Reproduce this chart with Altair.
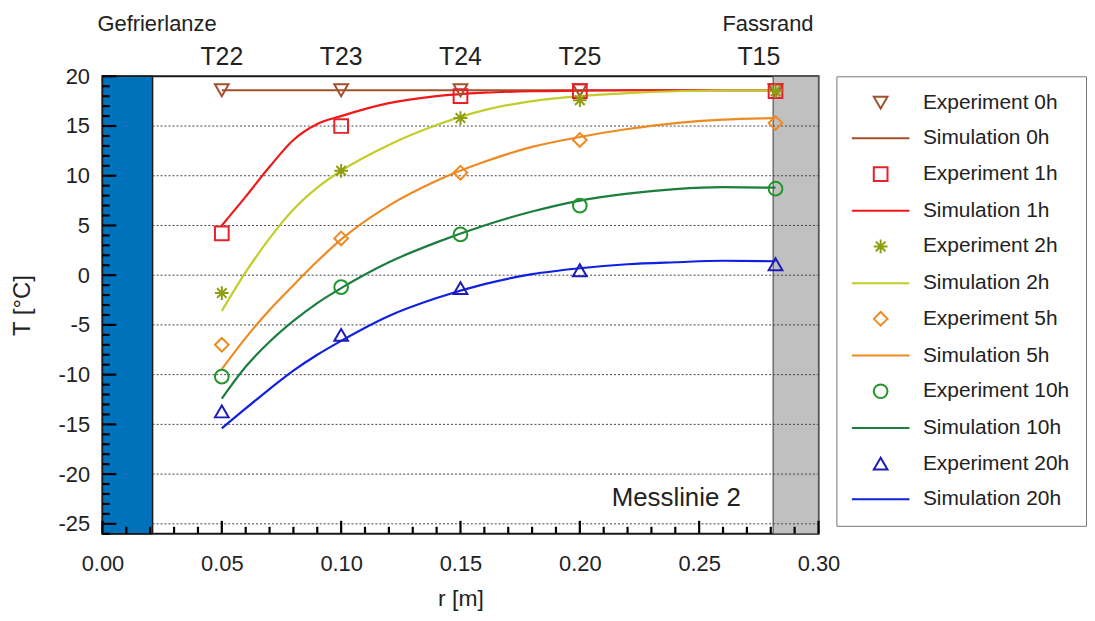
import altair as alt
import pandas as pd

# ---------------- data ----------------
r_sensor = [0.05, 0.10, 0.15, 0.20, 0.282]
sensor_names = ["T22", "T23", "T24", "T25", "T15"]
sensor_label_r = [0.05, 0.10, 0.15, 0.20, 0.275]

exp_0h = [18.6, 18.6, 18.6, 18.6, 18.6]
exp_1h = [4.2, 15.0, 18.0, 18.5, 18.5]
exp_2h = [-1.8, 10.5, 15.8, 17.6, 18.5]
exp_5h = [-7.0, 3.7, 10.3, 13.6, 15.3]
exp_10h = [-10.2, -1.2, 4.1, 7.0, 8.7]
exp_20h = [-13.7, -6.0, -1.3, 0.5, 1.1]

r_sim = [0.05, 0.06, 0.07, 0.08, 0.09, 0.10, 0.12, 0.14, 0.16, 0.18, 0.20, 0.22, 0.24, 0.26, 0.282]
sim_0h = [18.6, 18.6, 18.6, 18.6, 18.6, 18.6, 18.6, 18.6, 18.6, 18.6, 18.6, 18.6, 18.6, 18.6, 18.6]
sim_1h = [5.0, 7.9, 10.9, 13.6, 15.2, 16.0, 17.3, 18.0, 18.35, 18.5, 18.55, 18.6, 18.6, 18.6, 18.6]
sim_2h = [-3.6, 0.3, 3.7, 6.6, 8.8, 10.5, 13.1, 15.1, 16.6, 17.5, 18.0, 18.3, 18.5, 18.6, 18.6]
sim_5h = [-9.45, -6.3, -3.5, -1.0, 1.4, 3.6, 7.0, 9.5, 11.4, 12.9, 13.9, 14.7, 15.3, 15.65, 15.8]
sim_10h = [-12.4, -9.2, -6.7, -4.6, -2.8, -1.3, 1.3, 3.3, 5.0, 6.4, 7.5, 8.2, 8.65, 8.85, 8.8]
sim_20h = [-15.4, -13.4, -11.45, -9.6, -8.0, -6.6, -4.1, -2.3, -0.9, 0.1, 0.7, 1.1, 1.3, 1.45, 1.4]

hours = ["0h", "1h", "2h", "5h", "10h", "20h"]
exp_series = [exp_0h, exp_1h, exp_2h, exp_5h, exp_10h, exp_20h]
sim_series = [sim_0h, sim_1h, sim_2h, sim_5h, sim_10h, sim_20h]

lance_r = [0.0, 0.021]   # Gefrierlanze region
rim_r = [0.281, 0.30]    # Fassrand region

x_ticks = [i / 100 for i in range(0, 31)]
x_major = [0.00, 0.05, 0.10, 0.15, 0.20, 0.25, 0.30]
x_minor = [v for v in x_ticks if round(v * 100) % 5 != 0]
y_ticks = list(range(-26, 21))
y_major = [-25, -20, -15, -10, -5, 0, 5, 10, 15, 20]
y_minor = [v for v in y_ticks if v % 5 != 0]
y_grid = [-25, -20, -15, -10, -5, 0, 5, 10, 15]

# ---------------- tables ----------------
exp_rows = []
for h, vals in zip(hours, exp_series):
    for r, t in zip(r_sensor, vals):
        exp_rows.append({"r": r, "T": t, "label": f"Experiment {h}"})
exp_df = pd.DataFrame(exp_rows)

sim_rows = []
for h, vals in zip(hours, sim_series):
    for r, t in zip(r_sim, vals):
        sim_rows.append({"r": r, "T": t, "label": f"Simulation {h}"})
sim_df = pd.DataFrame(sim_rows)

sensor_df = pd.DataFrame({"r": sensor_label_r, "name": sensor_names})
lance_df = pd.DataFrame({"r0": [lance_r[0]], "r1": [lance_r[1]]})
rim_df = pd.DataFrame({"r0": [rim_r[0]], "r1": [rim_r[1]]})
grid_df = pd.DataFrame({"T": y_grid})

legend_order = []
for h in hours:
    legend_order += [f"Experiment {h}", f"Simulation {h}"]

color_range = [
    "#A0522D", "#A0522D",
    "#E8202A", "#F01818",
    "#8F9E10", "#C2CC2A",
    "#EE8A22", "#EE8A22",
    "#22962A", "#1B7D3E",
    "#1C1CB4", "#1020E0",
]
LINE = "M-4.2,0L4.2,0"
ASTER = "M-1,0L1,0M0,-1L0,1M-0.7,-0.7L0.7,0.7M-0.7,0.7L0.7,-0.7"
shape_range = [
    "triangle-down", LINE,
    "square", LINE,
    ASTER, LINE,
    "diamond", LINE,
    "circle", LINE,
    "triangle-up", LINE,
]

FONT = "Liberation Sans"
X0, X1 = 0.0, 0.30
Y0, Y1 = -26, 20

x_scale = alt.Scale(domain=[X0, X1], nice=False, zero=False)
y_scale = alt.Scale(domain=[Y0, Y1], nice=False, zero=False)

x_axis = alt.Axis(
    values=x_ticks, tickCount=200,
    labelExpr="round(datum.value*100) % 5 === 0 ? format(datum.value, '.2f') : ''",
    tickSize={"condition": {"test": "round(datum.value*100) % 5 === 0", "value": -13}, "value": -7},
    tickOpacity=0, domain=False, grid=False,
    labelFontSize=22, labelPadding=33, labelFlush=False, labelOverlap=False,
    title="r [m]", titleFontSize=23, titleFontWeight="normal", titlePadding=7,
)
y_axis = alt.Axis(
    values=y_ticks, tickCount=200,
    labelExpr="datum.value % 5 === 0 ? '' + datum.value : ''",
    tickSize={"condition": {"test": "datum.value % 5 === 0", "value": -14}, "value": -7},
    tickOpacity=0, domain=False, grid=False,
    labelFontSize=22, labelPadding=27, labelFlush=False, labelOverlap=False,
    title="T [°C]", titleFontSize=24, titleFontWeight="normal", titlePadding=24,
)

color_enc = alt.Color(
    "label:N",
    scale=alt.Scale(domain=legend_order, range=color_range),
    legend=alt.Legend(
        title=None, orient="none", legendX=738, legendY=0,
        labelFontSize=21, labelFont=FONT, labelColor="#222",
        symbolSize=190, symbolStrokeWidth=2, symbolOffset=18, labelOffset=32,
        rowPadding=13.9, padding=16, strokeColor="#777", fillColor="white",
        labelLimit=300,
    ),
)
shape_enc = alt.Shape(
    "label:N",
    scale=alt.Scale(domain=legend_order, range=shape_range),
    legend=alt.Legend(title=None),
)

lance = alt.Chart(lance_df).mark_rect(color="#0072BC", stroke="#1a1a1a", strokeWidth=1.5).encode(
    x=alt.X("r0:Q", scale=x_scale, axis=x_axis),
    x2="r1:Q",
    y=alt.Y(datum=Y0, scale=y_scale, axis=y_axis),
    y2=alt.Y2(datum=Y1),
)
rim = alt.Chart(rim_df).mark_rect(color="#C0C0C0", stroke="#555", strokeWidth=1.2).encode(
    x=alt.X("r0:Q", scale=x_scale),
    x2="r1:Q",
    y=alt.Y(datum=Y0, scale=y_scale),
    y2=alt.Y2(datum=Y1),
)
grid = alt.Chart(grid_df).mark_rule(color="#444", strokeDash=[2, 2], strokeWidth=1).encode(
    y=alt.Y("T:Q", scale=y_scale),
    x=alt.X(datum=lance_r[1], scale=x_scale),
    x2=alt.X2(datum=rim_r[1]),
)

# inward axis ticks: short rules starting at the frame edge (length in data units)
Y_MAJ_LEN, Y_MIN_LEN = 0.0058, 0.0030   # ~14 px and ~7 px
X_MAJ_LEN, X_MIN_LEN = 1.3, 0.7         # ~13 px and ~7 px

def yticks(values, length):
    return alt.Chart(pd.DataFrame({"T": values})).mark_rule(color="#000", strokeWidth=2.2).encode(
        y=alt.Y("T:Q", scale=y_scale),
        x=alt.X(datum=X0, scale=x_scale),
        x2=alt.X2(datum=X0 + length),
    )

def xticks(values, length):
    return alt.Chart(pd.DataFrame({"r": values})).mark_rule(color="#000", strokeWidth=2.2).encode(
        x=alt.X("r:Q", scale=x_scale),
        y=alt.Y(datum=Y0, scale=y_scale),
        y2=alt.Y2(datum=Y0 + length),
    )

ticks = [yticks(y_major, Y_MAJ_LEN), yticks(y_minor, Y_MIN_LEN),
         xticks(x_major, X_MAJ_LEN), xticks(x_minor, X_MIN_LEN)]

lines = alt.Chart(sim_df).mark_line(interpolate="monotone", strokeWidth=2.2).encode(
    x=alt.X("r:Q", scale=x_scale),
    y=alt.Y("T:Q", scale=y_scale),
    color=color_enc,
    detail="label:N",
)
points = alt.Chart(exp_df).mark_point(filled=False, size=190, strokeWidth=2, opacity=1).encode(
    x=alt.X("r:Q", scale=x_scale),
    y=alt.Y("T:Q", scale=y_scale),
    color=color_enc,
    shape=shape_enc,
)

sensors = alt.Chart(sensor_df).mark_text(fontSize=25, font=FONT, color="#222", baseline="middle").encode(
    x=alt.X("r:Q", scale=x_scale),
    y=alt.Y(datum=21.9, scale=y_scale),
    text="name:N",
)
lance_txt = alt.Chart(pd.DataFrame({"t": ["Gefrierlanze"]})).mark_text(
    fontSize=22, font=FONT, color="#222", align="left", baseline="middle", dx=-5
).encode(x=alt.X(datum=X0, scale=x_scale), y=alt.Y(datum=25.3, scale=y_scale), text="t:N")
rim_txt = alt.Chart(pd.DataFrame({"t": ["Fassrand"]})).mark_text(
    fontSize=22, font=FONT, color="#222", align="right", baseline="middle", dx=-5
).encode(x=alt.X(datum=X1, scale=x_scale), y=alt.Y(datum=25.3, scale=y_scale), text="t:N")
mess_txt = alt.Chart(pd.DataFrame({"t": ["Messlinie 2"]})).mark_text(
    fontSize=26, font=FONT, color="#222", align="right", baseline="middle"
).encode(x=alt.X(datum=0.2675, scale=x_scale), y=alt.Y(datum=-22.4, scale=y_scale), text="t:N")

chart = alt.layer(lance, rim, grid, lines, points, sensors, lance_txt, rim_txt, mess_txt, *ticks).properties(
    width=720, height=460,
    autosize=alt.AutoSizeParams(type="none"),
    padding={"left": 95, "top": 67, "right": 270, "bottom": 78},
).configure_view(
    stroke="#1a1a1a", strokeWidth=2
).configure_axis(
    labelFont=FONT, titleFont=FONT, labelColor="#222", titleColor="#222"
)

chart.save("out.html", embed_options={"renderer": "svg", "actions": False})
